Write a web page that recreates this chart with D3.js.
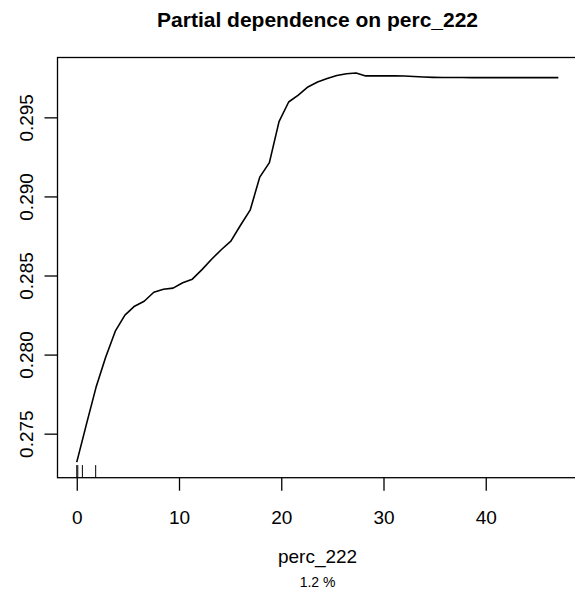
<!DOCTYPE html>
<html>
<head>
<meta charset="utf-8">
<script src="https://cdn.jsdelivr.net/npm/d3@7"></script>
<style>
  html, body { margin: 0; padding: 0; background: #fff; overflow: hidden; }
  svg { display: block; font-family: "Liberation Sans", Arial, Helvetica, sans-serif; }
</style>
</head>
<body>
<svg id="chart" width="575" height="595"></svg>
<script>
// Grid of perc_222 values at which the partial dependence was evaluated
const percGrid = [
  0.000, 0.942, 1.884, 2.826, 3.768, 4.710, 5.652, 6.594, 7.536, 8.478,
  9.420, 10.362, 11.304, 12.246, 13.188, 14.130, 15.072, 16.014, 16.956, 17.898,
  18.840, 19.782, 20.724, 21.666, 22.608, 23.550, 24.492, 25.434, 26.376, 27.318,
  28.260, 29.202, 30.144, 31.086, 32.028, 32.970, 33.912, 34.854, 35.796, 36.738,
  37.680, 38.622, 39.564, 40.506, 41.448, 42.390, 43.332, 44.274, 45.216, 46.158,
  47.100
];

// Partial dependence (average prediction) at each grid value
const partialDep = [
  0.27320, 0.27559, 0.27793, 0.27983, 0.28148, 0.28249, 0.28306, 0.28337, 0.28394, 0.28413,
  0.28420, 0.28454, 0.28477, 0.28537, 0.28603, 0.28663, 0.28717, 0.28818, 0.28913, 0.29122,
  0.29214, 0.29473, 0.29597, 0.29641, 0.29692, 0.29723, 0.29746, 0.29765, 0.29776, 0.29780,
  0.29762, 0.29762, 0.29762, 0.29762, 0.29761, 0.29758, 0.29755, 0.29753, 0.29752, 0.29752,
  0.29752, 0.29751, 0.29751, 0.29751, 0.29751, 0.29751, 0.29751, 0.29751, 0.29751, 0.29751,
  0.29751
];

// Deciles of the observed perc_222 values (rug marks)
const rugValues = [0.0, 0.1, 0.55, 1.85];

const xTicks = [0, 10, 20, 30, 40];
const yTicks = [0.275, 0.280, 0.285, 0.290, 0.295];

const titleText = "Partial dependence on perc_222";
const xLabel = "perc_222";
const subLabel = "1.2 %";

// Plot region and R-style 4% axis padding
const plot = { left: 57.5, top: 57.5, right: 577.6, bottom: 477.7 };

function padded(extent) {
  const d = (extent[1] - extent[0]) * 0.04;
  return [extent[0] - d, extent[1] + d];
}

const x = d3.scaleLinear()
  .domain(padded(d3.extent(percGrid)))
  .range([plot.left, plot.right]);

const y = d3.scaleLinear()
  .domain(padded(d3.extent(partialDep)))
  .range([plot.bottom, plot.top]);

const svg = d3.select("#chart");

// Title
svg.append("text")
  .attr("x", (plot.left + plot.right) / 2)
  .attr("y", 27)
  .attr("text-anchor", "middle")
  .attr("font-weight", "bold")
  .attr("font-size", 21)
  .text(titleText);

// Partial dependence curve
const line = d3.line()
  .x((d, i) => x(percGrid[i]))
  .y(d => y(d));

svg.append("path")
  .datum(partialDep)
  .attr("fill", "none")
  .attr("stroke", "#000")
  .attr("stroke-width", 1.6)
  .attr("stroke-linejoin", "round")
  .attr("d", line);

// Rug along the bottom of the plot region
const rugLen = (plot.bottom - plot.top) * 0.03;
svg.append("g")
  .selectAll("line")
  .data(rugValues)
  .join("line")
  .attr("x1", d => x(d))
  .attr("x2", d => x(d))
  .attr("y1", plot.bottom)
  .attr("y2", plot.bottom - rugLen)
  .attr("stroke", "#000")
  .attr("stroke-width", 1);

// Bottom axis
const xAxis = svg.append("g")
  .attr("transform", `translate(0,${plot.bottom})`)
  .call(d3.axisBottom(x).tickValues(xTicks).tickSize(13).tickSizeOuter(0).tickFormat(d3.format("d")));
xAxis.select(".domain").remove();
xAxis.selectAll(".tick line").attr("stroke", "#000").attr("stroke-width", 1.3);
xAxis.selectAll(".tick text")
  .attr("y", 46)
  .attr("dy", 0)
  .attr("font-size", 19)
  .attr("fill", "#000");

// Left axis with rotated labels
const yAxis = svg.append("g")
  .attr("transform", `translate(${plot.left},0)`)
  .call(d3.axisLeft(y).tickValues(yTicks).tickSize(13).tickSizeOuter(0).tickFormat(d3.format(".3f")));
yAxis.select(".domain").remove();
yAxis.selectAll(".tick line").attr("stroke", "#000").attr("stroke-width", 1.3);
yAxis.selectAll(".tick text")
  .attr("transform", "rotate(-90)")
  .attr("x", 0)
  .attr("y", -24.5)
  .attr("dy", 0)
  .attr("text-anchor", "middle")
  .attr("font-size", 19)
  .attr("fill", "#000");

// Plot box
svg.append("rect")
  .attr("x", plot.left)
  .attr("y", plot.top)
  .attr("width", plot.right - plot.left)
  .attr("height", plot.bottom - plot.top)
  .attr("fill", "none")
  .attr("stroke", "#000")
  .attr("stroke-width", 1.3);

// Axis title and subtitle
svg.append("text")
  .attr("x", (plot.left + plot.right) / 2)
  .attr("y", 563)
  .attr("text-anchor", "middle")
  .attr("font-size", 19)
  .text(xLabel);

svg.append("text")
  .attr("x", (plot.left + plot.right) / 2)
  .attr("y", 587)
  .attr("text-anchor", "middle")
  .attr("font-size", 14)
  .text(subLabel);
</script>
</body>
</html>
